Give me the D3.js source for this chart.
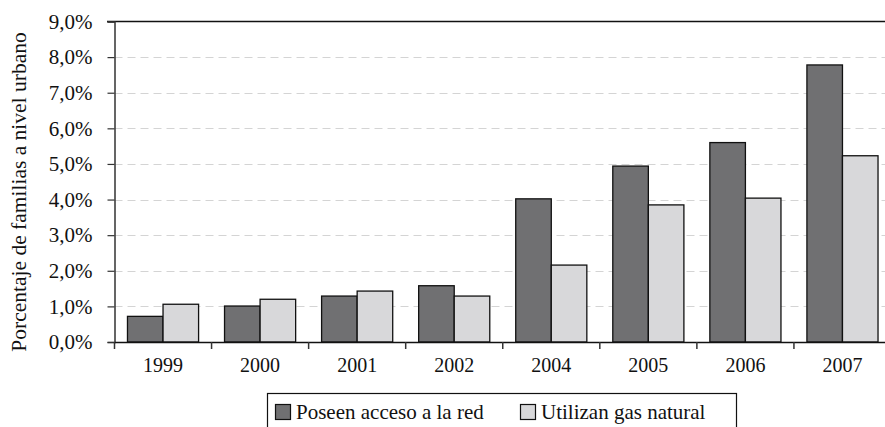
<!DOCTYPE html>
<html>
<head>
<meta charset="utf-8">
<script src="https://cdn.jsdelivr.net/npm/d3@7"></script>
<style>
  body { margin: 0; background: #fff; }
  svg text { font-family: "Liberation Serif", "Times New Roman", "DejaVu Serif", serif; font-size: 20px; fill: #111; }
</style>
</head>
<body>
<svg id="chart" width="885" height="427"></svg>
<script>
// data
const years = ['1999', '2000', '2001', '2002', '2004', '2005', '2006', '2007'];
const poseenAcceso = [0.72, 1.01, 1.29, 1.58, 4.02, 4.94, 5.60, 7.78];
const utilizanGas = [1.06, 1.20, 1.43, 1.29, 2.16, 3.85, 4.04, 5.23];
const seriesNames = ['Poseen acceso a la red', 'Utilizan gas natural'];
const yTicks = [0, 1, 2, 3, 4, 5, 6, 7, 8, 9];

const colors = ['#707072', '#d8d8da'];

let svg = d3.select('#chart'),
  plotLeft = 114.5,
  plotRight = 891,
  plotTop = 21.5,
  plotBottom = 342;

let x0 = d3.scaleBand().domain(years).range([plotLeft, plotRight]).paddingInner(0).paddingOuter(0);
let x1 = d3.scaleBand().domain([0, 1]).range([0, x0.bandwidth()]).paddingOuter(0.365).paddingInner(0);
let y = d3.scaleLinear().domain([0, 9]).range([plotBottom, plotTop]);

// dashed gridlines
svg.append('g')
  .selectAll('line')
  .data(yTicks.filter(d => d > 0 && d < 9))
  .join('line')
  .attr('x1', plotLeft)
  .attr('x2', plotRight)
  .attr('y1', d => Math.round(y(d)) + 0.5)
  .attr('y2', d => Math.round(y(d)) + 0.5)
  .attr('stroke', '#d4d4d4')
  .attr('stroke-width', 1)
  .attr('stroke-dasharray', '8,5');

// top border of plot area
svg.append('line')
  .attr('x1', 107).attr('x2', plotRight)
  .attr('y1', plotTop).attr('y2', plotTop)
  .attr('stroke', '#111').attr('stroke-width', 1.5);

// bars
let groups = svg.append('g')
  .selectAll('g')
  .data(years)
  .join('g')
  .attr('transform', d => 'translate(' + x0(d) + ',0)');

groups.selectAll('rect')
  .data((d, i) => [poseenAcceso[i], utilizanGas[i]])
  .join('rect')
  .attr('x', (d, j) => x1(j))
  .attr('y', d => y(d))
  .attr('width', x1.bandwidth())
  .attr('height', d => plotBottom - y(d))
  .attr('fill', (d, j) => colors[j])
  .attr('stroke', '#111')
  .attr('stroke-width', 1.3);

// y axis
let yAxis = d3.axisLeft(y)
  .tickValues(yTicks)
  .tickSize(7)
  .tickPadding(15)
  .tickFormat(d => d3.format('.1f')(d).replace('.', ',') + '%');

let gy = svg.append('g')
  .attr('transform', 'translate(' + plotLeft + ',0)')
  .call(yAxis);
gy.select('.domain').attr('stroke', '#333').attr('stroke-width', 1.5);
gy.selectAll('.tick line').attr('stroke', '#333').attr('stroke-width', 1.2);
gy.selectAll('.tick text').style('font-size', '21px');

// x axis
let xAxis = d3.axisBottom(x0).tickSize(0).tickPadding(16);
let gx = svg.append('g')
  .attr('transform', 'translate(0,' + plotBottom + ')')
  .call(xAxis);
gx.select('.domain').attr('stroke', '#111').attr('stroke-width', 1.5);

// category separator ticks
svg.append('g')
  .selectAll('line')
  .data(years)
  .join('line')
  .attr('x1', d => x0(d))
  .attr('x2', d => x0(d))
  .attr('y1', plotBottom)
  .attr('y2', plotBottom + 7)
  .attr('stroke', '#333')
  .attr('stroke-width', 1.5);

// y axis title
svg.append('text')
  .attr('transform', 'translate(26,192) rotate(-90)')
  .attr('text-anchor', 'middle')
  .style('font-size', '21.5px')
  .text('Porcentaje de familias a nivel urbano');

// legend
let legend = svg.append('g');
legend.append('rect')
  .attr('x', 267.5).attr('y', 393.5)
  .attr('width', 469).attr('height', 50)
  .attr('fill', 'none')
  .attr('stroke', '#111')
  .attr('stroke-width', 1.2);

let legendX = [275, 520];
seriesNames.forEach((name, i) => {
  legend.append('rect')
    .attr('x', legendX[i] + 0.5).attr('y', 404.5)
    .attr('width', 15).attr('height', 15)
    .attr('fill', colors[i])
    .attr('stroke', '#111')
    .attr('stroke-width', 1.2);
  legend.append('text')
    .attr('x', legendX[i] + 21)
    .attr('y', 419)
    .style('font-size', '21px')
    .text(name);
});
</script>
</body>
</html>
